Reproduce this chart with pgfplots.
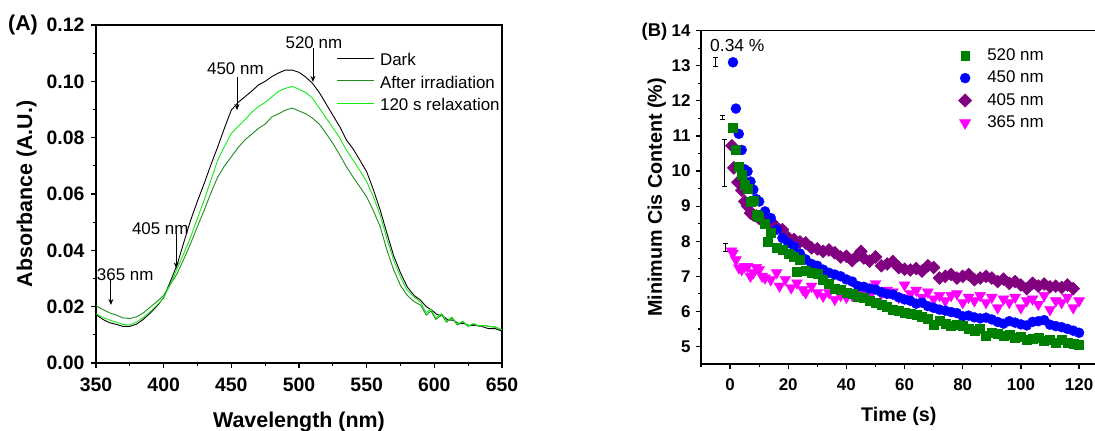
\documentclass[border=0pt]{standalone}
\usepackage{fontspec}
\setmainfont{Liberation Sans}
\usepackage{pgfplots}
\pgfplotsset{compat=1.18}
\usetikzlibrary{arrows.meta}
\definecolor{dkgreen}{RGB}{30,140,30}
\definecolor{ltgreen}{RGB}{20,235,20}
\definecolor{sqgreen}{RGB}{0,128,0}
\definecolor{cblue}{RGB}{0,0,255}
\definecolor{cpurple}{RGB}{128,0,128}
\definecolor{cmag}{RGB}{255,0,255}
\pgfplotsset{
  myax/.style={
    scale only axis,
    axis line style={line width=1.5bp},
    tick align=outside,
    xtick pos=left, ytick pos=left,
    major tick length=5bp, minor tick length=3bp,
    every tick/.style={black, line width=1.2bp},
    /pgf/number format/assume math mode=true,
    scaled ticks=false,
    clip=true,
  }
}
\begin{document}
\begin{tikzpicture}[x=1bp,y=1bp]
% ---------------- Panel A ----------------
\begin{axis}[myax,
  at={(96bp,68bp)}, anchor=south west,
  width=406bp, height=338bp,
  xmin=350, xmax=650, ymin=0, ymax=0.12,
  xtick={350,400,450,500,550,600,650},
  ytick={0,0.02,0.04,0.06,0.08,0.10,0.12},
  minor x tick num=1, minor y tick num=1,
  yticklabel style={xshift=-3bp, /pgf/number format/.cd, fixed, fixed zerofill, precision=2},
  ticklabel style={font=\fontsize{19.5}{20}\selectfont\bfseries},
  xticklabel style={yshift=-6bp},
  xlabel={Wavelength (nm)}, ylabel={Absorbance (A.U.)},
  label style={font=\fontsize{21.5}{23}\selectfont\bfseries},
  xlabel style={at={(axis description cs:0.5,-0.176)}, anchor=center},
  ylabel style={at={(axis description cs:-0.171,0.5)}, anchor=center, rotate=0},
  legend style={at={(axis description cs:0.585,0.928)}, anchor=north west, draw=none, fill=none,
    font=\fontsize{17}{19}\selectfont, row sep=3.7bp,
    nodes={inner sep=1.5bp, text height=12.5bp, text depth=3.5bp},
    /tikz/every odd column/.append style={column sep=4bp}},
  legend cell align=left,
  legend image code/.code={\draw[#1] (0bp,3bp) -- (37bp,3bp);},
]
\addplot[black, line width=0.9bp] table {
350 0.0172
355 0.0155
360 0.0143
365 0.0137
370 0.0130
375 0.0130
380 0.0138
385 0.0155
390 0.0177
395 0.0202
400 0.0232
405 0.0290
410 0.0350
415 0.0430
420 0.0508
425 0.0575
430 0.0638
435 0.0705
440 0.0768
445 0.0835
450 0.0898
455 0.0925
460 0.0945
465 0.0965
470 0.0987
475 0.1000
480 0.1017
485 0.1030
490 0.1040
495 0.1040
500 0.1032
505 0.1015
510 0.0993
515 0.0960
520 0.0920
525 0.0880
530 0.0840
535 0.0792
540 0.0760
545 0.0720
550 0.0679
555 0.0615
560 0.0543
565 0.0460
570 0.0380
575 0.0320
580 0.0270
585 0.0240
590 0.0222
594 0.0200
598 0.0188
602 0.0172
606 0.0168
610 0.0153
614 0.0152
618 0.0140
622 0.0140
626 0.0133
630 0.0134
635 0.0130
640 0.0122
645 0.0122
650 0.0113
};
\addlegendentry{Dark}
\addplot[dkgreen, line width=0.9bp] table {
350 0.0203
355 0.0190
360 0.0178
365 0.0170
370 0.0160
375 0.0158
380 0.0164
385 0.0178
390 0.0198
395 0.0218
400 0.0240
405 0.0280
410 0.0318
415 0.0370
420 0.0425
425 0.0485
430 0.0543
435 0.0605
440 0.0661
445 0.0700
450 0.0732
455 0.0765
460 0.0792
465 0.0812
470 0.0833
475 0.0848
480 0.0874
485 0.0885
490 0.0898
495 0.0905
500 0.0895
505 0.0885
510 0.0869
515 0.0848
520 0.0815
525 0.0780
530 0.0740
535 0.0697
540 0.0660
545 0.0625
550 0.0590
555 0.0540
560 0.0484
565 0.0400
570 0.0330
575 0.0275
580 0.0240
585 0.0218
590 0.0205
594 0.0170
597.5 0.0185
601 0.0155
605.5 0.0170
609 0.0145
613 0.0160
617 0.0135
621 0.0146
625 0.0130
629 0.0138
633 0.0130
637 0.0133
641 0.0129
645 0.0127
650 0.0118
};
\addlegendentry{After irradiation}
\addplot[ltgreen, line width=0.9bp] table {
350 0.0175
355 0.0162
360 0.0153
365 0.0145
370 0.0137
375 0.0135
380 0.0145
385 0.0162
390 0.0182
395 0.0205
400 0.0232
405 0.0280
410 0.0336
415 0.0390
420 0.0448
425 0.0515
430 0.0579
435 0.0650
440 0.0721
445 0.0770
450 0.0815
455 0.0840
460 0.0863
465 0.0890
470 0.0910
475 0.0925
480 0.0945
485 0.0965
490 0.0975
495 0.0982
500 0.0972
505 0.0960
510 0.0940
515 0.0905
520 0.0870
525 0.0835
530 0.0800
535 0.0756
540 0.0720
545 0.0683
550 0.0644
555 0.0590
560 0.0525
565 0.0440
570 0.0365
575 0.0305
580 0.0258
585 0.0235
590 0.0215
594 0.0178
597.5 0.0192
601 0.0160
605.5 0.0175
609 0.0148
613 0.0163
617 0.0138
621 0.0148
625 0.0132
629 0.0140
633 0.0131
637 0.0134
641 0.0130
645 0.0128
650 0.0118
};
\addlegendentry{120 s relaxation}
\begin{scope}[every node/.style={font=\fontsize{17}{19}\selectfont}]
\node at (axis cs:511,0.1138) {520 nm};
\node at (axis cs:453,0.1044) {450 nm};
\node at (axis cs:397.5,0.0478) {405 nm};
\node at (axis cs:371.6,0.0315) {365 nm};
\end{scope}
\begin{scope}[-{Stealth[length=6bp,width=5bp]}, line width=0.8bp]
\draw (axis cs:510.3,0.1118) -- (axis cs:510.3,0.0998);
\draw (axis cs:454.2,0.1016) -- (axis cs:454.2,0.0898);
\draw (axis cs:409.3,0.0460) -- (axis cs:409.3,0.0336);
\draw (axis cs:361,0.0295) -- (axis cs:361,0.0206);
\end{scope}
\end{axis}
\node[font=\fontsize{21.5}{23}\selectfont\bfseries] at (23bp,406bp) {(A)};
% ---------------- Panel B ----------------
\begin{axis}[myax,
  at={(701bp,67bp)}, anchor=south west,
  width=395.5bp, height=333.3bp,
  xmin=-10, xmax=126, ymin=4.5, ymax=14,
  xtick={0,20,40,60,80,100,120},
  minor xtick={-10,10,30,50,70,90,110},
  ytick={5,6,7,8,9,10,11,12,13,14},
  minor y tick num=1,
  ticklabel style={font=\fontsize{17}{18}\selectfont\bfseries},
  xticklabel style={yshift=-6bp},
  yticklabel style={xshift=-2bp},
  xlabel={Time (s)}, ylabel={Minimum Cis Content (\%)},
  label style={font=\fontsize{19.8}{21}\selectfont\bfseries},
  xlabel style={at={(axis description cs:0.5,-0.157)}, anchor=center},
  ylabel style={at={(axis description cs:-0.112,0.5)}, anchor=center},
  legend style={at={(axis description cs:0.643,0.96)}, anchor=north west, draw=none, fill=none,
    font=\fontsize{17}{19}\selectfont, row sep=3.4bp,
    nodes={inner sep=1.5bp, text height=12.5bp, text depth=3.5bp},
    /tikz/every odd column/.append style={column sep=14bp}},
  legend cell align=left,
]
\addlegendimage{only marks, mark=square*, mark size=4.4bp, sqgreen}
\addlegendentry{520 nm}
\addlegendimage{only marks, mark=*, mark size=5bp, cblue}
\addlegendentry{450 nm}
\addlegendimage{only marks, mark=square*, mark size=4.7bp, mark options={rotate=45}, cpurple}
\addlegendentry{405 nm}
\addlegendimage{only marks, mark=triangle*, mark size=6.5bp, mark options={rotate=180}, cmag}
\addlegendentry{365 nm}
% 365 nm
\addplot[forget plot, only marks, mark=triangle*, mark size=6.3bp, mark options={rotate=180, draw=cmag, fill=cmag}] table {
0.5 7.72
1 7.66
2 7.47
3 7.24
4 7.19
5 7.28
6 7.28
7 7.00
8 7.10
9 7.25
10 7.19
11 7.00
12 6.95
14 6.90
16 7.10
17 6.72
19 6.91
21 6.67
23 6.81
25 6.62
26 6.53
28 6.72
30 6.53
32 6.43
34 6.53
36 6.34
38 6.45
40 6.40
42 6.45
44 6.50
46 6.55
48 6.45
50 6.79
52 6.50
54 6.60
56 6.55
58 6.40
60 6.75
62 6.50
64 6.60
66 6.40
68 6.55
70 6.35
72 6.45
74 6.30
76 6.45
78 6.50
80 6.25
82 6.40
84 6.30
86 6.45
88 6.25
90 6.40
92 6.10
94 6.35
96 6.25
98 6.40
100 6.10
102 6.30
104 6.35
106 6.20
108 6.45
110 6.05
112 6.30
114 6.25
116 6.40
118 6.10
120 6.30
};
% 405 nm
\addplot[forget plot, only marks, mark=square*, mark size=4.6bp, mark options={rotate=45, draw=cpurple, fill=cpurple}] table {
0.6 10.72
1.3 10.09
2.7 9.68
4 9.45
5 9.13
6 9.00
7 8.80
8 8.75
9 8.72
10 8.65
12 8.55
14 8.57
16 8.40
18 8.33
20 8.10
22 8.05
24 7.98
26 7.95
28 7.81
30 7.78
32 7.71
34 7.75
36 7.67
38 7.55
40 7.57
42 7.45
44 7.60
45 7.71
46 7.52
48 7.43
50 7.55
52 7.30
54 7.35
56 7.42
58 7.25
60 7.20
62 7.18
64 7.22
66 7.15
68 7.30
70 7.25
72 6.95
74 7.00
76 7.05
78 6.95
80 7.00
82 7.05
84 6.90
86 6.95
88 7.00
90 6.95
92 6.85
94 6.92
96 6.80
98 6.85
100 6.75
102 6.65
104 6.80
106 6.72
108 6.78
110 6.70
112 6.72
114 6.68
116 6.75
118 6.65
};
% 450 nm
\addplot[forget plot, only marks, mark=*, mark size=5bp, mark options={draw=cblue, fill=cblue}] table {
1 13.10
2 11.78
3 11.06
4 10.60
5 10.05
6 9.99
7 9.70
8 9.47
9 9.20
10 9.13
12 8.85
14 8.66
16 8.33
18 8.09
20 7.95
22 7.85
24 7.65
26 7.48
28 7.35
30 7.30
32 7.19
34 7.10
36 7.05
38 7.00
40 6.91
42 6.85
44 6.72
46 6.70
48 6.65
50 6.62
52 6.55
54 6.50
56 6.48
58 6.40
60 6.34
62 6.30
64 6.22
66 6.25
68 6.15
70 6.10
72 6.05
74 6.02
76 5.98
78 5.95
80 5.86
82 5.88
84 5.83
86 5.80
88 5.82
90 5.77
92 5.70
94 5.65
96 5.72
98 5.68
100 5.63
102 5.60
104 5.70
106 5.72
108 5.75
110 5.62
112 5.58
114 5.55
116 5.50
118 5.45
120 5.39
};
% 520 nm
\addplot[forget plot, only marks, mark=square*, mark size=4.5bp, mark options={draw=sqgreen, fill=sqgreen}] table {
1 11.24
2 10.60
3 10.13
4 9.90
5 9.60
6 9.50
7 9.13
8 9.15
9 8.75
10 8.70
12 8.50
13 8.00
14 8.24
16 7.81
18 7.76
20 7.65
22 7.57
23 7.14
24 7.48
26 7.15
28 7.10
30 7.08
32 6.90
34 6.80
36 6.65
38 6.62
40 6.53
42 6.50
44 6.43
46 6.38
48 6.30
50 6.24
52 6.20
54 6.12
56 6.05
58 6.02
60 5.96
62 5.92
64 5.90
66 5.85
68 5.80
70 5.62
72 5.72
74 5.65
76 5.60
78 5.62
80 5.58
82 5.50
84 5.45
86 5.52
88 5.30
90 5.40
92 5.36
94 5.30
96 5.33
98 5.25
100 5.28
102 5.20
104 5.22
106 5.25
108 5.15
110 5.18
112 5.12
114 5.20
116 5.10
118 5.08
120 5.05
};
% error bars
\addplot[forget plot, draw=none, mark=none,
  error bars/.cd, y dir=both, y explicit,
  error bar style={line width=0.7bp, draw=black},
  error mark options={rotate=90, mark size=2.5bp, line width=0.7bp, draw=black}] coordinates {
(-4.9,13.105) +- (0,0.135)
(-2.5,11.54) +- (0,0.06)
(-2.0,10.225) +- (0,0.665)
(-1.7,7.815) +- (0,0.115)
};
\node[font=\fontsize{17.5}{19}\selectfont] at (axis cs:2.5,13.57) {0.34 \%};
\end{axis}
\node[font=\fontsize{18.5}{20}\selectfont\bfseries] at (654.5bp,399bp) {(B)};
\pgfresetboundingbox
\path[use as bounding box] (0,0) rectangle (1095bp,431bp);
\end{tikzpicture}
\end{document}
